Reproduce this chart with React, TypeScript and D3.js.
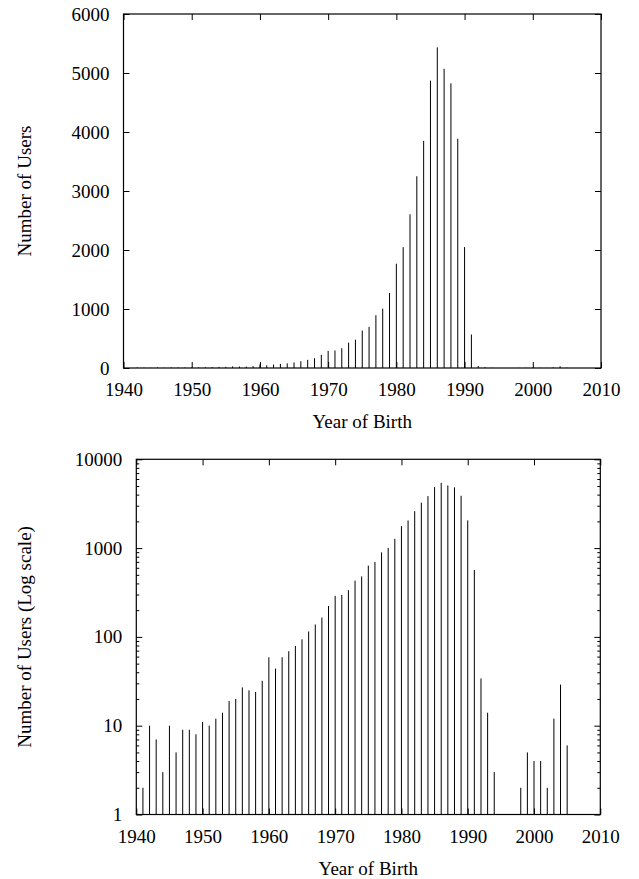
import React, { useEffect, useRef } from "react";
import * as d3 from "d3";

// users per birth year
const years = [
  1941, 1942, 1943, 1944, 1945, 1946, 1947, 1948, 1949, 1950,
  1951, 1952, 1953, 1954, 1955, 1956, 1957, 1958, 1959, 1960,
  1961, 1962, 1963, 1964, 1965, 1966, 1967, 1968, 1969, 1970,
  1971, 1972, 1973, 1974, 1975, 1976, 1977, 1978, 1979, 1980,
  1981, 1982, 1983, 1984, 1985, 1986, 1987, 1988, 1989, 1990,
  1991, 1992, 1993, 1994, 1998, 1999, 2000, 2001, 2002, 2003,
  2004, 2005,
];
const users = [
  2, 10, 7, 3, 10, 5, 9, 9, 8, 11,
  10, 12, 14, 19, 20, 27, 25, 24, 32, 59,
  44, 59, 69, 79, 94, 115, 138, 165, 223, 290,
  297, 336, 430, 480, 635, 698, 895, 1005, 1270, 1767,
  2048, 2605, 3250, 3850, 4870, 5435, 5070, 4825, 3885, 2050,
  568, 34, 14, 3, 2, 5, 4, 4, 2, 12,
  29, 6,
];

const xTicks = [1940, 1950, 1960, 1970, 1980, 1990, 2000, 2010];
const linTicks = [0, 1000, 2000, 3000, 4000, 5000, 6000];
const logTicks = [1, 10, 100, 1000, 10000];

const FONT = "'Liberation Serif', 'Times New Roman', serif";
const FS = 19;

type Rec = { year: number; n: number };
const data: Rec[] = years.map((y, i) => ({ year: y, n: users[i] }));

function styleText(g: d3.Selection<SVGGElement, unknown, null, undefined>) {
  g.attr("font-family", FONT).attr("font-size", FS);
  g.selectAll("text").attr("fill", "#000");
  g.selectAll(".tick line").attr("stroke", "#000");
  g.select(".domain").remove();
}

function drawPanel(
  root: d3.Selection<SVGSVGElement, unknown, null, undefined>,
  box: { left: number; right: number; top: number; bottom: number },
  yScale: any,
  major: number[],
  minor: number[],
  yTitle: string,
  base: number
) {
  const x = d3.scaleLinear().domain([1940, 2010]).range([box.left, box.right]);
  const g = root.append("g");

  // impulses
  g.selectAll("line.bar")
    .data(data.filter((d) => d.n > 0))
    .enter()
    .append("line")
    .attr("class", "bar")
    .attr("x1", (d) => x(d.year))
    .attr("x2", (d) => x(d.year))
    .attr("y1", yScale(base))
    .attr("y2", (d) => yScale(d.n))
    .attr("stroke", "#000")
    .attr("stroke-width", 1);

  const bottom = g.append("g").attr("transform", `translate(0,${box.bottom})`)
    .call(d3.axisBottom(x).tickValues(xTicks).tickFormat(d3.format("d")).tickSize(-6).tickPadding(15));
  styleText(bottom);
  const top = g.append("g").attr("transform", `translate(0,${box.top})`)
    .call(d3.axisTop(x).tickValues(xTicks).tickFormat(() => "").tickSize(-6));
  styleText(top);

  const left = g.append("g").attr("transform", `translate(${box.left},0)`)
    .call(d3.axisLeft(yScale).tickValues(major).tickFormat(d3.format("d")).tickSize(-6).tickPadding(14));
  styleText(left);
  const right = g.append("g").attr("transform", `translate(${box.right},0)`)
    .call(d3.axisRight(yScale).tickValues(major).tickFormat(() => "").tickSize(-6));
  styleText(right);

  if (minor.length) {
    const lm = g.append("g").attr("transform", `translate(${box.left},0)`)
      .call(d3.axisLeft(yScale).tickValues(minor).tickFormat(() => "").tickSize(-3));
    styleText(lm);
    const rm = g.append("g").attr("transform", `translate(${box.right},0)`)
      .call(d3.axisRight(yScale).tickValues(minor).tickFormat(() => "").tickSize(-3));
    styleText(rm);
  }

  g.append("rect")
    .attr("x", box.left).attr("y", box.top)
    .attr("width", box.right - box.left).attr("height", box.bottom - box.top)
    .attr("fill", "none").attr("stroke", "#000").attr("stroke-width", 1.2);

  g.append("text")
    .attr("x", (box.left + box.right) / 2).attr("y", box.bottom + 60)
    .attr("text-anchor", "middle")
    .attr("font-family", FONT).attr("font-size", FS)
    .text("Year of Birth");

  g.append("text")
    .attr("transform", `translate(31,${(box.top + box.bottom) / 2}) rotate(-90)`)
    .attr("text-anchor", "middle")
    .attr("font-family", FONT).attr("font-size", FS)
    .text(yTitle);
}

export default function App() {
  const ref = useRef<SVGSVGElement>(null);

  useEffect(() => {
    const svg = d3.select(ref.current!);
    svg.selectAll("*").remove();

    const topBox = { left: 123.5, right: 601, top: 14, bottom: 368 };
    const yLin = d3.scaleLinear().domain([0, 6000]).range([topBox.bottom, topBox.top]);
    drawPanel(svg, topBox, yLin, linTicks, [], "Number of Users", 0);

    const botBox = { left: 136.3, right: 600.3, top: 459.3, bottom: 814.5 };
    const yLog = d3.scaleLog().domain([1, 10000]).range([botBox.bottom, botBox.top]);
    const minor = yLog.ticks().filter((v) => !logTicks.includes(v));
    drawPanel(svg, botBox, yLog, logTicks, minor, "Number of Users (Log scale)", 1);
  }, []);

  return (
    <svg
      ref={ref}
      width={639}
      height={879}
      style={{ position: "absolute", left: 0, top: 0, background: "#fff" }}
    />
  );
}
